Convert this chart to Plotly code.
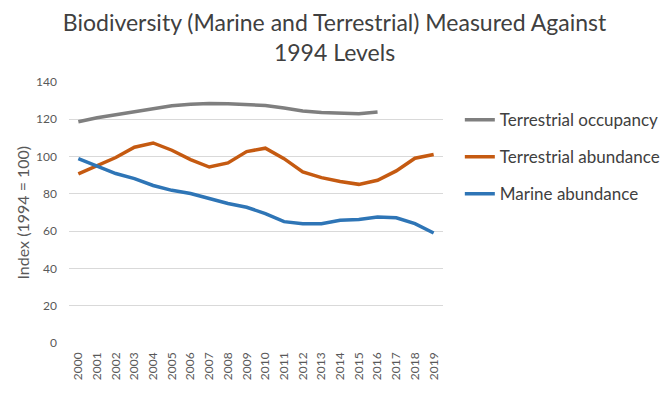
import plotly.graph_objects as go

years = [str(y) for y in range(2000, 2020)]
terr_occupancy = [118.7, 120.8, 122.4, 124.0, 125.8, 127.2, 128.0, 128.5, 128.4, 128.0, 127.4, 126.0, 124.5, 123.6, 123.1, 123.0, 123.9]
terr_abundance = [90.7, 95.2, 99.5, 105.0, 107.3, 103.4, 98.4, 94.4, 96.6, 102.7, 104.5, 98.9, 91.8, 88.7, 86.6, 85.1, 87.3, 92.3, 99.1, 101.1]
marine_abundance = [98.9, 94.8, 90.9, 88.2, 84.5, 81.9, 80.2, 77.5, 74.8, 72.8, 69.4, 65.1, 64.0, 64.0, 65.8, 66.3, 67.6, 67.2, 64.0, 59.0]
y_ticks = [0, 20, 40, 60, 80, 100, 120, 140]

series = [
    ("Terrestrial occupancy", years[:len(terr_occupancy)], terr_occupancy, "#7f7f7f"),
    ("Terrestrial abundance", years, terr_abundance, "#c55a11"),
    ("Marine abundance", years, marine_abundance, "#2e75b6"),
]

fig = go.Figure()
for i, (name, xs, ys, color) in enumerate(series):
    fig.add_trace(go.Scatter(
        x=xs, y=ys, name=name, mode="lines", legendgroup=f"g{i}",
        line=dict(color=color, width=3.5),
    ))

font_family = "Lato, 'Open Sans', sans-serif"
# page body has an 8px default margin, so the figure is offset to compensate
fig.update_layout(
    width=680, height=387,
    margin=dict(l=61, r=245, t=74, b=52),
    paper_bgcolor="white", plot_bgcolor="white",
    font=dict(family=font_family, color="#595959"),
    title=dict(
        text="Biodiversity (Marine and Terrestrial) Measured Against<br>1994 Levels",
        x=0.71, xref="paper", xanchor="center", y=0.94, yanchor="middle",
        font=dict(size=23, color="#404040", family=font_family),
    ),
    showlegend=True,
    legend=dict(
        x=1.045, xanchor="left", y=0.923, yanchor="top",
        font=dict(size=17, color="#404040"),
        tracegroupgap=12, bgcolor="rgba(0,0,0,0)",
    ),
    xaxis=dict(
        type="category", categoryorder="array", categoryarray=years,
        range=[-0.5, 19.5], tickangle=-90, showgrid=False, showline=False,
        ticks="", tickfont=dict(size=12, color="#595959"), ticklabelstandoff=6,
        automargin=False,
    ),
    yaxis=dict(
        range=[0, 140], tickvals=y_ticks, showgrid=True, gridcolor="#d9d9d9",
        gridwidth=1, zeroline=False, showline=False, ticks="",
        tickfont=dict(size=12, color="#595959"), ticklabelstandoff=11,
        automargin=False,
    ),
    annotations=[dict(
        text="Index (1994 = 100)", xref="paper", yref="paper", x=0, y=0.5,
        xanchor="center", yanchor="middle", xshift=-47, textangle=-90,
        showarrow=False, font=dict(size=16, color="#595959", family=font_family),
    )],
)

fig.write_html("out.html")
